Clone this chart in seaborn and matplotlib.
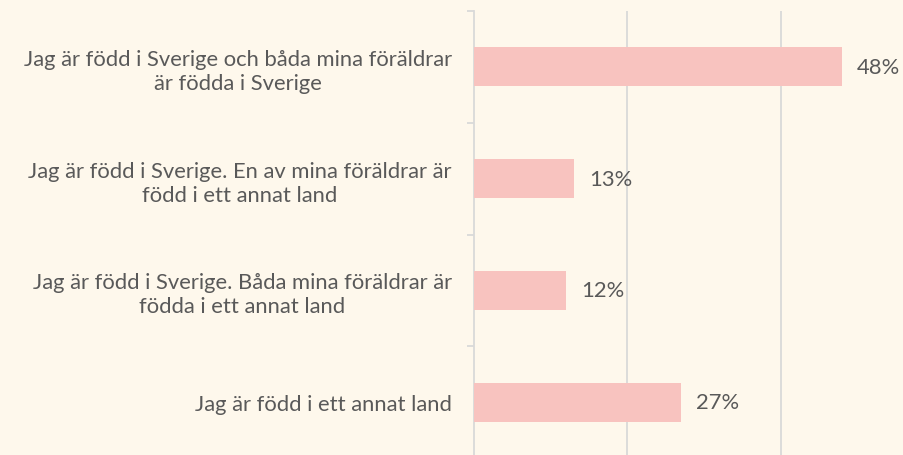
import matplotlib
matplotlib.use("Agg")
import matplotlib.pyplot as plt
import seaborn as sb
import pandas as pd
import numpy as np

categories = [
    "Jag är född i Sverige och båda mina föräldrar\när födda i Sverige",
    "Jag är född i Sverige. En av mina föräldrar är\nfödd i ett annat land",
    "Jag är född i Sverige. Båda mina föräldrar är\nfödda i ett annat land",
    "Jag är född i ett annat land",
]
shares = [0.48, 0.13, 0.12, 0.27]
grid_ticks = [0.2, 0.4]

bg = "#FEF8EC"
bar_color = "#F8C3BF"
text_color = "#595959"
line_color = "#D9D9D9"

sb.set_style("white")
plt.rcParams["font.family"] = ["Lato", "DejaVu Sans"]

df = pd.DataFrame({"label": categories, "share": shares})

fig = plt.figure(figsize=(9.04, 4.56), dpi=100, facecolor=bg)
# axes run past the right/bottom edge, like the cropped original
ax = fig.add_axes([474 / 904, -3 / 456, 460 / 904, 447 / 456])
ax.set_facecolor(bg)

sb.barplot(data=df, x="share", y="label", color=bar_color, width=0.35,
           saturation=1, linewidth=0, ax=ax, zorder=3)

ax.set_xlim(0, 0.6)
ax.set_ylim(len(categories) - 0.5, -0.5)
ax.set_xticks(grid_ticks)
ax.set_xticklabels([])
ax.tick_params(axis="x", length=0)
ax.grid(axis="x", color=line_color, linewidth=1.3, zorder=0)

# labels centred on the bars, small tick marks between categories
ax.set_yticks(np.arange(len(categories)))
ax.set_yticks(np.arange(len(categories) + 1) - 0.5, minor=True)
ax.tick_params(axis="y", which="major", left=False, pad=12.5)
ax.tick_params(axis="y", which="minor", left=True, length=5, width=1.3,
               color=line_color)
for lbl in ax.get_yticklabels():
    lbl.set_multialignment("center")
    lbl.set_linespacing(1.25)
    lbl.set_fontsize(15.8)
    lbl.set_color(text_color)

for s in ["top", "right", "bottom"]:
    ax.spines[s].set_visible(False)
ax.spines["left"].set_color(line_color)
ax.spines["left"].set_linewidth(1.3)

ax.set_xlabel("")
ax.set_ylabel("")

for i, v in enumerate(shares):
    ax.annotate(f"{round(v * 100)}%", xy=(v, i), xytext=(11, 0),
                textcoords="offset points", va="center", ha="left",
                fontsize=15.8, color=text_color)

plt.savefig("out.png", dpi=100, facecolor=bg)
